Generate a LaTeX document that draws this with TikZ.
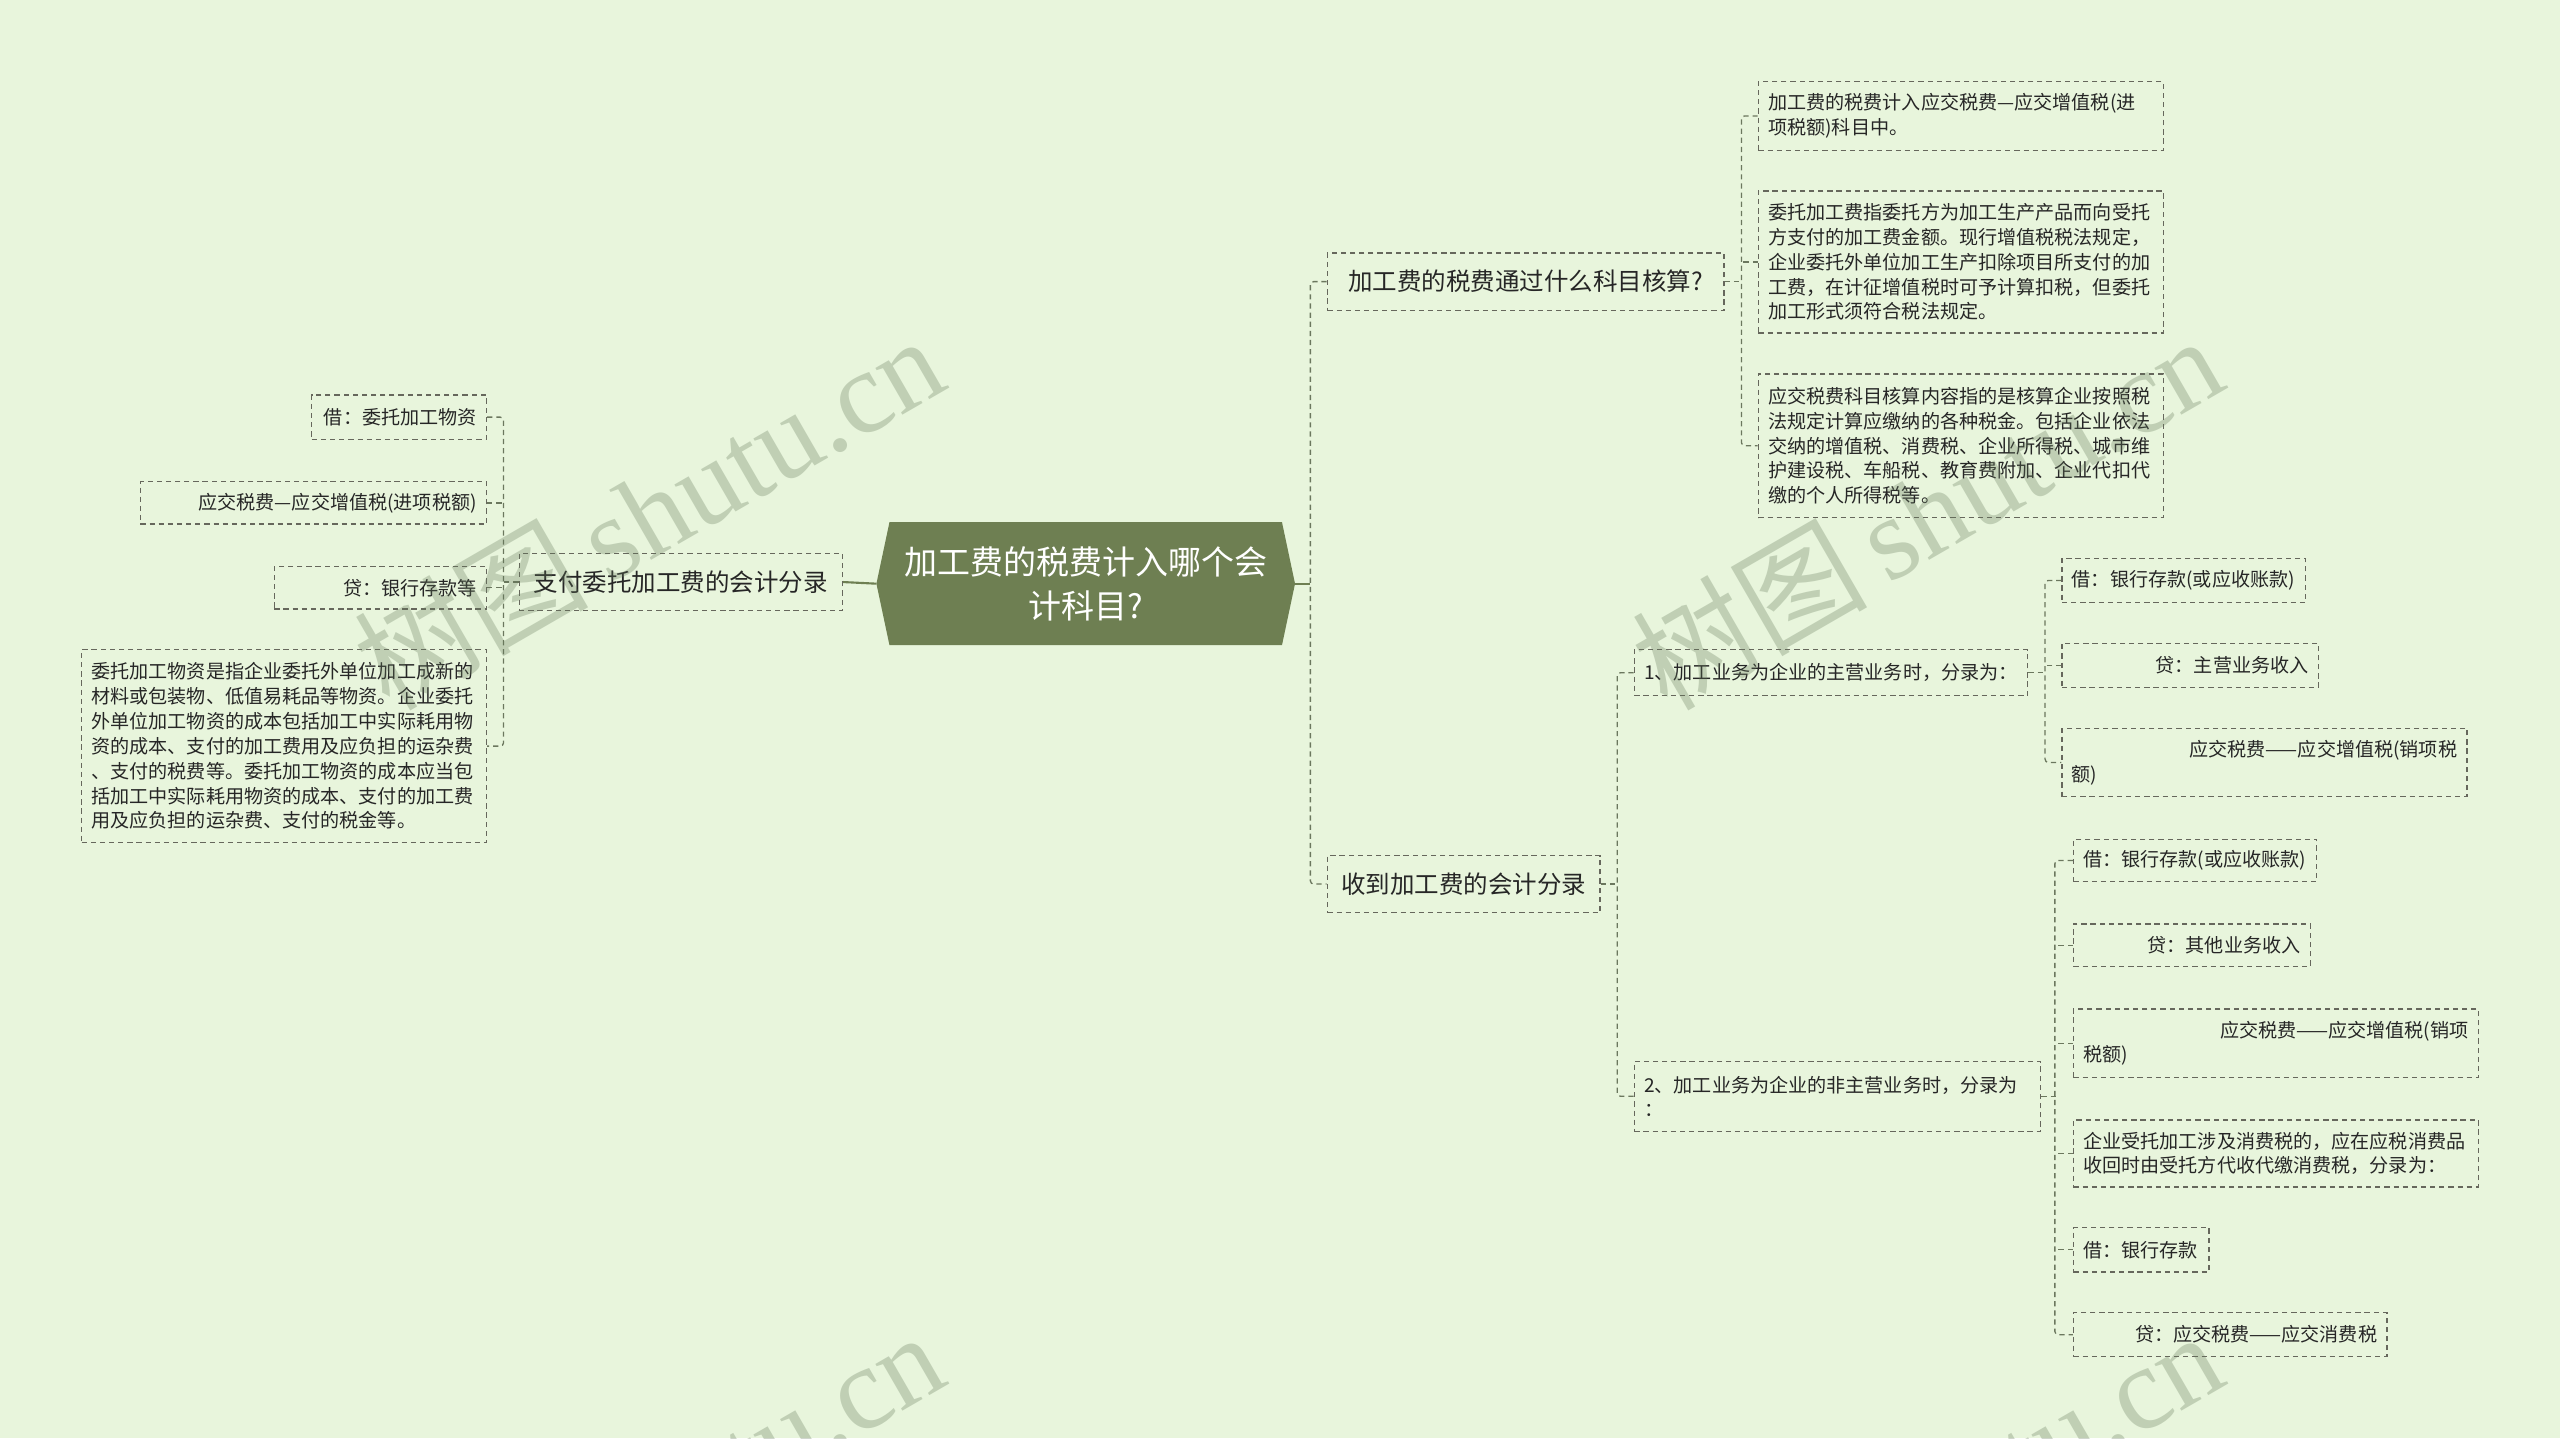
\documentclass[tikz,border=0pt]{standalone}
\usepackage{fontspec}
\setmainfont{Noto Sans CJK SC}
\newfontfamily\wmfont{Liberation Serif}
\usetikzlibrary{backgrounds}
\definecolor{bgc}{HTML}{E8F5DC}
\definecolor{rootc}{HTML}{6E7F52}
\definecolor{bordc}{HTML}{66675C}
\definecolor{connc}{HTML}{6B775E}
\definecolor{txtc}{HTML}{262626}
\definecolor{wmc}{RGB}{100,120,90}
\tikzset{
  leaf/.style={draw=bordc, line width=0.8pt, dash pattern=on 3.2pt off 2.4pt, text=txtc,
    font=\fontsize{11.7pt}{15.2pt}\selectfont, inner xsep=6pt, inner ysep=0pt, anchor=center},
  mid/.style={leaf, font=\fontsize{15pt}{19pt}\selectfont},
  conn/.style={draw=connc, line width=0.8pt, dash pattern=on 3.2pt off 2.4pt, rounded corners=2pt},
  rootline/.style={draw=rootc, line width=1.3pt},
  wm/.style={text=wmc, opacity=0.3, rotate=30, font=\fontsize{72pt}{72pt}\selectfont, inner sep=0pt}
}
\begin{document}
\begin{tikzpicture}[x=1pt,y=-1pt]
\useasboundingbox (0,0) rectangle (1568,881);
% root
\node[text=white, font=\fontsize{20.2pt}{27pt}\selectfont, align=center, text width=244pt,
  minimum width=256pt, minimum height=75pt, inner sep=0pt] (root) at (665,357.5)
  {加工费的税费计入哪个会\\计科目?};
\begin{scope}[on background layer]
  \fill[bgc] (0,0) rectangle (1568,881);
  \fill[rootc] (root.west) -- ([xshift=8pt]root.north west) -- ([xshift=-8pt]root.north east)
    -- (root.east) -- ([xshift=-8pt]root.south east) -- ([xshift=8pt]root.south west) -- cycle;
\end{scope}
% left branch
\node[mid, minimum width=198pt, minimum height=35pt, text width=186pt, align=center] (L) at (417,356.5) {支付委托加工费的会计分录};
\node[leaf, minimum width=107pt, minimum height=27pt, text width=95pt, align=right] (L1) at (244.5,255.5) {借：委托加工物资};
\node[leaf, minimum width=212pt, minimum height=26pt, text width=200pt, align=right] (L2) at (192,308) {应交税费—应交增值税(进项税额)};
\node[leaf, minimum width=130pt, minimum height=26pt, text width=118pt, align=right] (L3) at (233,360) {贷：银行存款等};
\node[leaf, minimum width=248pt, minimum height=118pt, text width=236pt, align=left] (L4) at (174,457)
  {委托加工物资是指企业委托外单位加工成新的\\材料或包装物、低值易耗品等物资。企业委托\\外单位加工物资的成本包括加工中实际耗用物\\资的成本、支付的加工费用及应负担的运杂费\\、支付的税费等。委托加工物资的成本应当包\\括加工中实际耗用物资的成本、支付的加工费\\用及应负担的运杂费、支付的税金等。};
% right branch A
\node[mid, minimum width=243pt, minimum height=35pt, text width=231pt, align=center] (A) at (934.5,172.5) {加工费的税费通过什么科目核算?};
\node[leaf, minimum width=248pt, minimum height=42pt, text width=236pt, align=left] (A1) at (1201,71)
  {加工费的税费计入应交税费—应交增值税(进\\项税额)科目中。};
\node[leaf, minimum width=248pt, minimum height=87pt, text width=236pt, align=left] (A2) at (1201,160.5)
  {委托加工费指委托方为加工生产产品而向受托\\方支付的加工费金额。现行增值税税法规定，\\企业委托外单位加工生产扣除项目所支付的加\\工费，在计征增值税时可予计算扣税，但委托\\加工形式须符合税法规定。};
\node[leaf, minimum width=248pt, minimum height=88pt, text width=236pt, align=left] (A3) at (1201,273)
  {应交税费科目核算内容指的是核算企业按照税\\法规定计算应缴纳的各种税金。包括企业依法\\交纳的增值税、消费税、企业所得税、城市维\\护建设税、车船税、教育费附加、企业代扣代\\缴的个人所得税等。};
% right branch B
\node[mid, minimum width=167pt, minimum height=35pt, text width=155pt, align=center] (B) at (896.5,541.5) {收到加工费的会计分录};
\node[leaf, minimum width=241pt, minimum height=28pt, text width=229pt, align=left] (B1) at (1121.5,412) {1、加工业务为企业的主营业务时，分录为：};
\node[leaf, minimum width=249pt, minimum height=43pt, text width=237pt, align=left] (B2) at (1125.5,671.5) {2、加工业务为企业的非主营业务时，分录为\\：};
\node[leaf, minimum width=149pt, minimum height=27pt, text width=137pt, align=left] (B1a) at (1337.5,355.5) {借：银行存款(或应收账款)};
\node[leaf, minimum width=157pt, minimum height=27pt, text width=145pt, align=right] (B1b) at (1341.5,407.5) {贷：主营业务收入};
\node[leaf, minimum width=248pt, minimum height=42pt, text width=236pt, align=left] (B1c) at (1387,467)
  {\hskip0pt plus 1filll\relax 应交税费——应交增值税(销项税\\额)};
\node[leaf, minimum width=149pt, minimum height=26pt, text width=137pt, align=left] (B2a) at (1344.5,527) {借：银行存款(或应收账款)};
\node[leaf, minimum width=145pt, minimum height=26pt, text width=133pt, align=right] (B2b) at (1342.5,579) {贷：其他业务收入};
\node[leaf, minimum width=248pt, minimum height=42pt, text width=236pt, align=left] (B2c) at (1394,639)
  {\hskip0pt plus 1filll\relax 应交税费——应交增值税(销项\\税额)};
\node[leaf, minimum width=248pt, minimum height=41pt, text width=236pt, align=left] (B2d) at (1394,706.5)
  {企业受托加工涉及消费税的，应在应税消费品\\收回时由受托方代收代缴消费税，分录为：};
\node[leaf, minimum width=83pt, minimum height=27pt, text width=71pt, align=left] (B2e) at (1311.5,765.5) {借：银行存款};
\node[leaf, minimum width=192pt, minimum height=27pt, text width=180pt, align=right] (B2f) at (1366,817.5) {贷：应交税费——应交消费税};
% connectors
\draw[rootline] (root.west) -- (L.east);
\draw[rootline] (root.east) -- ([xshift=-10pt]A.west |- root.east);
\draw[conn] (A.west) -- ++(-10pt,0) |- (B.west);
\draw[conn] (L.west) -- ++(-10pt,0);
\draw[conn] (L1.east) -- ++(10pt,0) |- (L4.east);
\draw[conn] (L2.east) -- ++(10pt,0);
\draw[conn] (L3.east) -- ++(10pt,0);
\draw[conn] (A.east) -- ++(11pt,0);
\draw[conn] (A1.west) -- ++(-10pt,0) |- (A3.west);
\draw[conn] (A2.west) -- ++(-10pt,0);
\draw[conn] (B.east) -- ++(11pt,0);
\draw[conn] (B1.west) -- ++(-10pt,0) |- (B2.west);
\draw[conn] (B1.east) -- ++(11pt,0);
\draw[conn] (B1a.west) -- ++(-10pt,0) |- (B1c.west);
\draw[conn] (B1b.west) -- ++(-10pt,0);
\draw[conn] (B2.east) -- ++(9pt,0);
\draw[conn] (B2a.west) -- ++(-11pt,0) |- (B2f.west);
\draw[conn] (B2b.west) -- ++(-11pt,0);
\draw[conn] (B2c.west) -- ++(-11pt,0);
\draw[conn] (B2d.west) -- ++(-11pt,0);
\draw[conn] (B2e.west) -- ++(-11pt,0);
% watermarks
\node[wm] (wm1) at (397,313) {树图\,{\wmfont shutu.cn}};
\node[wm] (wm2) at (1180,313) {树图\,{\wmfont shutu.cn}};
\node[wm] (wm3) at (397,923) {树图\,{\wmfont shutu.cn}};
\node[wm] (wm4) at (1180,923) {树图\,{\wmfont shutu.cn}};
\end{tikzpicture}
\end{document}
